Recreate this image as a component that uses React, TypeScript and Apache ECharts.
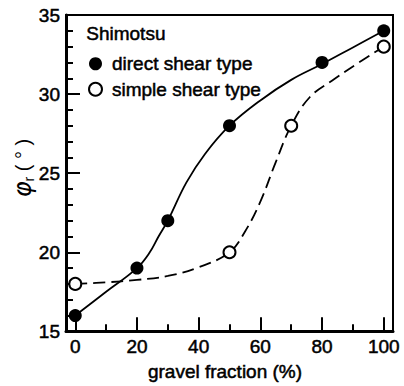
import React, { useEffect, useRef } from "react";
import * as echarts from "echarts";

// Measured points
const directX = [0, 20, 30, 50, 80, 100];
const directY = [16, 19, 22, 28, 32, 34];
const simpleX = [0, 50, 70, 100];
const simpleY = [18, 20, 28, 33];

// Fitted curves
const directCurveX = [0, 10, 20, 24, 27, 30, 36, 42, 50, 60, 70, 80, 90, 100];
const directCurveY = [16, 17.5, 19, 19.95, 21, 22, 24.4, 26.2, 28, 29.6, 30.9, 31.9, 32.95, 34];
const simpleCurveX = [0, 10, 20, 30, 40, 50, 55, 60, 65, 70, 76, 84, 92, 100];
const simpleCurveY = [18, 18.1, 18.25, 18.5, 19.05, 20, 21.3, 23.2, 25.7, 28, 29.8, 30.95, 32, 33];

// Axis ticks / labels
const xLabelValues = [0, 20, 40, 60, 80, 100];
const xMinorTickValues = [10, 30, 50, 70, 90];
const yMin = 15;
const yMax = 35;
const yInterval = 5;

const seriesNames = ["direct shear type", "simple shear type"];
const legendTitle = "Shimotsu";
const xName = "gravel fraction (%)";

const FONT = "'Liberation Sans', Arial, Helvetica, sans-serif";
const THICK = { textBorderColor: "#000", textBorderWidth: 0.5 };

export default function App() {
  const ref = useRef<HTMLDivElement>(null);
  useEffect(() => {
    if (!ref.current) return;
    const chart = echarts.init(ref.current, null, { renderer: "svg" });
    const pair = (xs: number[], ys: number[]) => xs.map((x, i) => [x, ys[i]]);
    chart.setOption({
      animation: false,
      backgroundColor: "#fff",
      textStyle: { fontFamily: FONT, color: "#000" },
      grid: {
        left: 66,
        right: 11,
        top: 15,
        bottom: 52,
        show: true,
        borderColor: "#000",
        borderWidth: 2,
        backgroundColor: "transparent",
      },
      legend: {
        data: seriesNames,
        orient: "vertical",
        left: 88,
        top: 54,
        padding: 0,
        itemWidth: 13,
        itemHeight: 13,
        itemGap: 6,
        selectedMode: false,
        textStyle: { fontSize: 19, color: "#000", fontFamily: FONT, padding: [0, 0, 0, 5], ...THICK },
      },
      graphic: [
        {
          type: "text",
          left: 86,
          top: 24,
          style: { text: legendTitle, fontSize: 19, fontFamily: FONT, fill: "#000", stroke: "#000", lineWidth: 0.5 },
        },
        {
          type: "text",
          x: 23,
          y: 168,
          rotation: Math.PI / 2,
          style: {
            text: "{a|φ}{b|r}{c| ( ° )}",
            align: "center",
            verticalAlign: "middle",
            fill: "#000",
            rich: {
              a: { fontSize: 24, fontFamily: "'DejaVu Sans', sans-serif", fontStyle: "italic", fill: "#000" },
              b: { fontSize: 14, fontFamily: FONT, fill: "#000", padding: [12, 0, 0, 0] },
              c: { fontSize: 20, fontFamily: FONT, fill: "#000" },
            },
          },
        },
      ],
      xAxis: [
        {
          type: "value",
          min: -3,
          max: 103,
          position: "bottom",
          name: xName,
          nameLocation: "middle",
          nameGap: 30,
          nameTextStyle: { fontSize: 19, fontFamily: FONT, color: "#000", padding: [0, 9, 0, 0], ...THICK },
          axisLine: { show: true, onZero: false, lineStyle: { color: "#000", width: 3 } },
          axisTick: {
            show: true,
            inside: true,
            length: 14,
            customValues: xLabelValues,
            lineStyle: { color: "#000", width: 2 },
          },
          axisLabel: {
            customValues: xLabelValues,
            fontSize: 19,
            color: "#000",
            fontFamily: FONT,
            margin: 6,
            ...THICK,
          },
          splitLine: { show: false },
        },
        {
          type: "value",
          min: -3,
          max: 103,
          position: "bottom",
          offset: 0,
          axisLine: { show: false, onZero: false },
          axisTick: {
            show: true,
            inside: true,
            length: 7,
            customValues: xMinorTickValues,
            lineStyle: { color: "#000", width: 2 },
          },
          axisLabel: { show: false },
          splitLine: { show: false },
        },
      ],
      yAxis: {
        type: "value",
        min: yMin,
        max: yMax,
        interval: yInterval,
        axisLine: { show: true, onZero: false, lineStyle: { color: "#000", width: 3 } },
        axisTick: { show: true, inside: true, length: 14, lineStyle: { color: "#000", width: 2 } },
        minorTick: { show: true, splitNumber: 5, length: 7, lineStyle: { color: "#000", width: 2 } },
        axisLabel: { fontSize: 19, color: "#000", fontFamily: FONT, margin: 6, ...THICK },
        splitLine: { show: false },
        minorSplitLine: { show: false },
      },
      series: [
        {
          type: "line",
          name: "direct curve",
          data: pair(directCurveX, directCurveY),
          smooth: 0.4,
          showSymbol: false,
          silent: true,
          z: 2,
          lineStyle: { color: "#000", width: 1.8 },
        },
        {
          type: "line",
          name: "simple curve",
          data: pair(simpleCurveX, simpleCurveY),
          smooth: 0.4,
          showSymbol: false,
          silent: true,
          z: 2,
          lineStyle: { color: "#000", width: 1.8, type: [12, 6] },
        },
        {
          type: "scatter",
          name: seriesNames[0],
          data: pair(directX, directY),
          symbol: "circle",
          symbolSize: 13,
          z: 3,
          itemStyle: { color: "#000", opacity: 1 },
        },
        {
          type: "scatter",
          name: seriesNames[1],
          data: pair(simpleX, simpleY),
          symbol: "circle",
          symbolSize: 12,
          z: 3,
          itemStyle: { color: "#fff", borderColor: "#000", borderWidth: 2, opacity: 1 },
        },
      ],
    });
    return () => chart.dispose();
  }, []);
  return (
    <div
      ref={ref}
      style={{ position: "fixed", left: 0, top: 0, width: 404, height: 386, background: "#fff" }}
    />
  );
}
